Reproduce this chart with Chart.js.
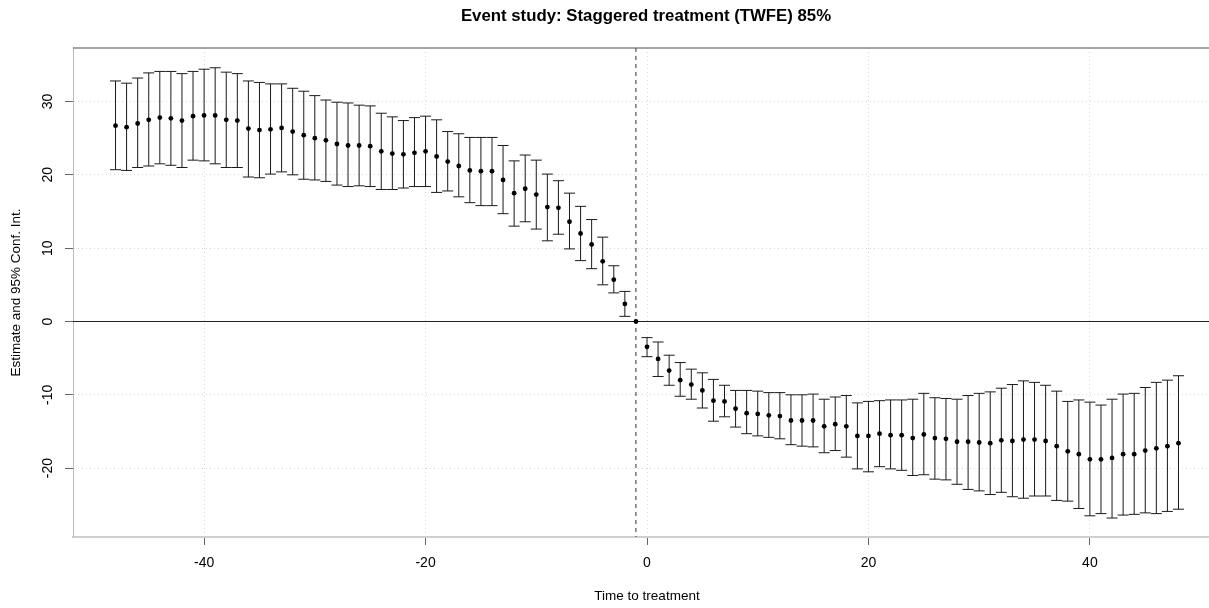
<!DOCTYPE html>
<html>
<head>
<meta charset="utf-8">
<title>Event study: Staggered treatment (TWFE) 85%</title>
<script src="https://cdn.jsdelivr.net/npm/chart.js@4.4.6/dist/chart.umd.min.js"></script>
<style>
  html,body{margin:0;padding:0;background:#fff;overflow:hidden;}
  canvas{display:block;}
</style>
</head>
<body>
<!-- the plot region runs past the right edge of the window, as in the original export -->
<canvas id="chart" width="1292" height="608"></canvas>
<script>
// Event study estimates with 95% CI, one entry per period relative to treatment.
const periods = [
  -48,-47,-46,-45,-44,-43,-42,-41,-40,-39,-38,-37,-36,-35,-34,-33,-32,-31,-30,-29,-28,-27,-26,-25,
  -24,-23,-22,-21,-20,-19,-18,-17,-16,-15,-14,-13,-12,-11,-10,-9,-8,-7,-6,-5,-4,-3,-2,-1,
  0,1,2,3,4,5,6,7,8,9,10,11,12,13,14,15,16,17,18,19,20,21,22,23,24,
  25,26,27,28,29,30,31,32,33,34,35,36,37,38,39,40,41,42,43,44,45,46,47,48
];
const estimate = [
  26.7,26.5,27.0,27.5,27.8,27.7,27.4,28.0,28.1,28.1,27.5,27.4,26.3,26.1,26.2,26.4,25.9,25.4,25.0,24.7,24.2,24.0,24.0,23.9,
  23.2,22.9,22.8,23.0,23.2,22.5,21.8,21.2,20.6,20.5,20.5,19.3,17.5,18.1,17.3,15.6,15.5,13.6,12.0,10.5,8.2,5.7,2.4,0,
  -3.45,-5.1,-6.7,-8.0,-8.6,-9.4,-10.8,-10.9,-11.9,-12.5,-12.6,-12.8,-12.9,-13.5,-13.5,-13.5,-14.3,-14.0,-14.3,-15.6,-15.6,-15.3,-15.5,-15.5,-15.9,
  -15.4,-15.9,-16.0,-16.4,-16.4,-16.5,-16.6,-16.2,-16.3,-16.1,-16.1,-16.3,-17.0,-17.7,-18.1,-18.8,-18.8,-18.6,-18.1,-18.1,-17.6,-17.3,-17.0,-16.6
];
const ciUpper = [
  32.8,32.5,33.2,33.9,34.1,34.1,33.8,34.1,34.4,34.6,34.0,33.8,32.8,32.6,32.4,32.4,31.8,31.4,30.8,30.2,29.9,29.8,29.5,29.4,
  28.4,27.9,27.4,27.8,28.0,27.5,25.9,25.6,25.1,25.1,25.1,24.0,21.9,22.7,22.0,20.1,19.2,17.5,15.7,13.9,11.5,7.6,4.1,0,
  -2.2,-2.8,-4.6,-5.6,-6.5,-7.0,-7.9,-8.7,-9.4,-9.4,-9.5,-9.7,-9.7,-10.0,-10.0,-9.9,-10.6,-10.3,-10.1,-11.1,-10.9,-10.8,-10.7,-10.7,-10.6,
  -9.8,-10.4,-10.5,-10.6,-10.1,-9.8,-9.6,-9.1,-8.6,-8.1,-8.3,-8.7,-9.5,-10.9,-10.7,-11.0,-11.4,-10.6,-9.9,-9.8,-9.0,-8.3,-8.0,-7.4
];
const ciLower = [
  20.7,20.6,21.0,21.2,21.5,21.3,21.0,22.0,21.9,21.5,21.0,21.0,19.7,19.6,20.1,20.4,20.0,19.4,19.3,19.1,18.6,18.4,18.5,18.4,
  18.0,18.0,18.2,18.4,18.4,17.6,17.8,17.0,16.2,15.8,15.8,14.7,13.0,13.6,12.6,11.0,11.9,9.9,8.3,7.2,5.0,3.9,0.7,0,
  -4.8,-7.5,-8.7,-10.2,-10.6,-11.8,-13.6,-13.0,-14.4,-15.3,-15.6,-15.8,-16.0,-16.8,-17.0,-17.1,-17.9,-17.6,-18.5,-20.1,-20.5,-19.8,-20.1,-20.3,-21.0,
  -20.9,-21.5,-21.6,-22.2,-22.9,-23.1,-23.6,-23.3,-23.9,-24.1,-23.8,-23.8,-24.4,-24.5,-25.5,-26.5,-26.2,-26.8,-26.4,-26.3,-26.1,-26.2,-25.9,-25.6
];
const xTicks = [-40,-20,0,20,40];
const yTicks = [-20,-10,0,10,20,30];
const refPeriod = -1;

const FONT = "'Liberation Sans', Arial, Helvetica, sans-serif";

// reference lines (y = 0 and the omitted period) plus the top frame edge
const refLines = {
  id: 'refLines',
  afterLayout(chart){
    // centre the main title on the whole canvas, not on the padded box
    const t = chart.titleBlock;
    if(t){ t.left = 0; t.right = chart.width; t.width = chart.width; }
  },
  beforeDatasetsDraw(chart){
    const {ctx, chartArea: a, scales: {x, y}} = chart;
    ctx.save();
    ctx.strokeStyle = '#888';
    ctx.lineWidth = 1.5;
    ctx.beginPath(); ctx.moveTo(a.left, a.top); ctx.lineTo(a.right, a.top); ctx.stroke();

    const y0 = Math.round(y.getPixelForValue(0)) + 0.5;
    ctx.strokeStyle = '#222';
    ctx.lineWidth = 1;
    ctx.beginPath(); ctx.moveTo(a.left, y0); ctx.lineTo(a.right, y0); ctx.stroke();

    const xr = x.getPixelForValue(refPeriod);
    ctx.strokeStyle = '#333';
    ctx.setLineDash([4, 4]);
    ctx.beginPath(); ctx.moveTo(xr, a.top); ctx.lineTo(xr, a.bottom); ctx.stroke();
    ctx.restore();
  }
};

// confidence interval whiskers with flat caps
const errorBars = {
  id: 'errorBars',
  beforeDatasetsDraw(chart){
    const {ctx, scales: {x, y}} = chart;
    const cap = 5.5;
    ctx.save();
    ctx.strokeStyle = '#1a1a1a';
    ctx.lineWidth = 1;
    periods.forEach((p, i) => {
      if(ciUpper[i] === ciLower[i]) return;
      const px = x.getPixelForValue(p);
      const yt = y.getPixelForValue(ciUpper[i]);
      const yb = y.getPixelForValue(ciLower[i]);
      ctx.beginPath();
      ctx.moveTo(px, yt); ctx.lineTo(px, yb);
      ctx.moveTo(px - cap, yt); ctx.lineTo(px + cap, yt);
      ctx.moveTo(px - cap, yb); ctx.lineTo(px + cap, yb);
      ctx.stroke();
    });
    ctx.restore();
  }
};

const tickFont = {family: FONT, size: 14};

new Chart(document.getElementById('chart'), {
  type: 'scatter',
  data: {
    datasets: [{
      data: periods.map((p, i) => ({x: p, y: estimate[i]})),
      backgroundColor: '#000',
      borderWidth: 0,
      pointRadius: 2.4,
      pointHoverRadius: 2.4
    }]
  },
  options: {
    responsive: false,
    animation: false,
    events: [],
    layout: {padding: {left: 0, top: 0, bottom: 0, right: 71}},
    plugins: {
      legend: {display: false},
      tooltip: {enabled: false},
      title: {
        display: true,
        text: 'Event study: Staggered treatment (TWFE) 85%',
        color: '#000',
        font: {family: FONT, size: 16.8, weight: 'bold'},
        padding: {top: 5.9, bottom: 21.9}
      }
    },
    scales: {
      x: {
        type: 'linear',
        min: -51.84,
        max: 51.84,
        afterBuildTicks: s => { s.ticks = xTicks.map(v => ({value: v})); },
        afterFit: s => { s.height = 71; },
        ticks: {font: tickFont, color: '#000', padding: 9.6, maxRotation: 0},
        grid: {color: '#d9d9d9', tickColor: '#666', tickLength: 8},
        border: {display: true, color: '#cfcfcf', width: 2, dash: [1, 3]},
        title: {display: true, text: 'Time to treatment', color: '#000',
                font: {family: FONT, size: 13.5}, padding: {top: 0, bottom: 3.6}}
      },
      y: {
        type: 'linear',
        min: -29.39,
        max: 37.3,
        afterBuildTicks: s => { s.ticks = yTicks.map(v => ({value: v})); },
        afterFit: s => { s.width = 73; },
        ticks: {font: tickFont, color: '#000', padding: 7, minRotation: 90, maxRotation: 90, crossAlign: 'center'},
        grid: {color: '#d9d9d9', tickColor: '#666', tickLength: 8},
        border: {display: true, color: '#bbb', width: 1, dash: [1, 3]},
        title: {display: true, text: 'Estimate and 95% Conf. Int.', color: '#000',
                font: {family: FONT, size: 13.5}, padding: {top: 7.9, bottom: 0}}
      }
    }
  },
  plugins: [refLines, errorBars]
});
</script>
</body>
</html>
